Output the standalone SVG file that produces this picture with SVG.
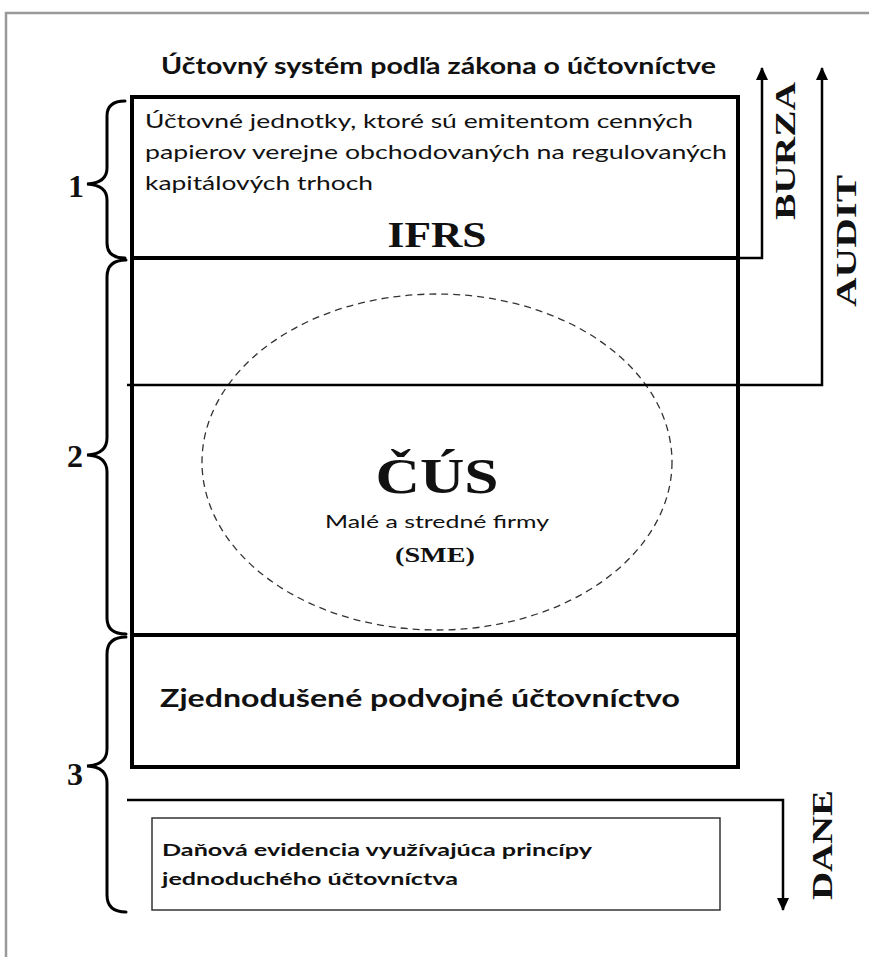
<svg xmlns="http://www.w3.org/2000/svg" width="869" height="957" viewBox="0 0 869 957">
<style>
  .sans { font-family: Lato, "Open Sans", "Liberation Sans", sans-serif; fill: #111; }
  .serif { font-family: "Liberation Serif", "DejaVu Serif", serif; font-weight: bold; fill: #111; }
  .thick { fill: none; stroke: #000; stroke-width: 4; }
  .brace { fill: none; stroke: #000; stroke-width: 3; stroke-linecap: round; }
  .conn { fill: none; stroke: #000; stroke-width: 2.5; }
  .num { font-size: 32px; }
</style>
<defs>
  <marker id="arrow" viewBox="0 0 13 12" refX="12" refY="6" markerWidth="13" markerHeight="12" orient="auto" markerUnits="userSpaceOnUse">
    <path d="M0,0 L13,6 L0,12 z" fill="#000"/>
  </marker>
</defs>
<rect width="869" height="957" fill="#fff"/>
<!-- outer frame -->
<path d="M6,957 L6,13 L869,13" fill="none" stroke="#999" stroke-width="2.5"/>

<text class="sans" x="161" y="74" font-size="22" font-weight="bold" textLength="555" lengthAdjust="spacingAndGlyphs">Účtovný systém podľa zákona o účtovníctve</text>

<g id="ifrs">
  <rect class="thick" x="132" y="97" width="606" height="161"/>
  <text class="sans" x="145" y="128" font-size="19" textLength="548" lengthAdjust="spacingAndGlyphs">Účtovné jednotky, ktoré sú emitentom cenných</text>
  <text class="sans" x="145" y="159" font-size="19" textLength="582" lengthAdjust="spacingAndGlyphs">papierov verejne obchodovaných na regulovaných</text>
  <text class="sans" x="145" y="190" font-size="19" textLength="228" lengthAdjust="spacingAndGlyphs">kapitálových trhoch</text>
  <text class="serif" x="437" y="247" font-size="36" text-anchor="middle" textLength="99" lengthAdjust="spacingAndGlyphs">IFRS</text>
</g>

<g id="cus">
  <path class="thick" d="M132,258 L132,635 M738,258 L738,635"/>
  <ellipse cx="437" cy="462" rx="235" ry="168" fill="none" stroke="#333" stroke-width="1.3" stroke-dasharray="7,5"/>
  <text class="serif" x="437" y="493" font-size="50" text-anchor="middle" textLength="123" lengthAdjust="spacingAndGlyphs">ČÚS</text>
  <text class="sans" x="437" y="528" font-size="18" text-anchor="middle" textLength="224" lengthAdjust="spacingAndGlyphs">Malé a stredné firmy</text>
  <text class="serif" x="435" y="562" font-size="20" text-anchor="middle" textLength="80" lengthAdjust="spacingAndGlyphs">(SME)</text>
</g>

<g id="podvojne">
  <path class="thick" d="M132,635 L738,635 L738,767 L132,767 Z"/>
  <text class="sans" x="160" y="707" font-size="24" font-weight="bold" textLength="520" lengthAdjust="spacingAndGlyphs">Zjednodušené podvojné účtovníctvo</text>
</g>

<g id="danova">
  <rect x="152" y="818" width="568" height="92" fill="none" stroke="#333" stroke-width="1.5"/>
  <text class="sans" x="162" y="856" font-size="17" font-weight="bold" textLength="430" lengthAdjust="spacingAndGlyphs">Daňová evidencia využívajúca princípy</text>
  <text class="sans" x="162" y="885" font-size="17" font-weight="bold" textLength="296" lengthAdjust="spacingAndGlyphs">jednoduchého účtovníctva</text>
</g>

<g id="brace1">
  <path class="brace" d="M125,101 Q107,101 107,116 L107,168 Q107,183 87,184 Q107,185 107,200 L107,243 Q107,258 125,258"/>
  <text class="serif num" x="76" y="197" text-anchor="middle">1</text>
</g>
<g id="brace2">
  <path class="brace" d="M126,260 Q107,260 107,277 L107,438 Q107,454 87,455 Q107,456 107,472 L107,618 Q107,634 126,634"/>
  <text class="serif num" x="75" y="467" text-anchor="middle">2</text>
</g>
<g id="brace3">
  <path class="brace" d="M126,637 Q107,637 107,654 L107,749 Q107,765 87,766 Q107,767 107,783 L107,895 Q107,912 126,912"/>
  <text class="serif num" x="75" y="785" text-anchor="middle">3</text>
</g>

<g id="connectors">
  <path class="conn" d="M738,258 L762,258 L762,68" marker-end="url(#arrow)"/>
  <path class="conn" d="M127,385 L822,385 L822,68" marker-end="url(#arrow)" stroke-width="2.2"/>
  <path class="conn" d="M127,800 L783,800 L783,910" marker-end="url(#arrow)" stroke-width="2.2"/>
</g>

<g id="labels">
  <text class="serif" transform="translate(795,220) rotate(-90)" font-size="30" textLength="138" lengthAdjust="spacingAndGlyphs">BURZA</text>
  <text class="serif" transform="translate(856,307) rotate(-90)" font-size="30" textLength="132" lengthAdjust="spacingAndGlyphs">AUDIT</text>
  <text class="serif" transform="translate(832,900) rotate(-90)" font-size="30" textLength="110" lengthAdjust="spacingAndGlyphs">DANE</text>
</g>
</svg>
